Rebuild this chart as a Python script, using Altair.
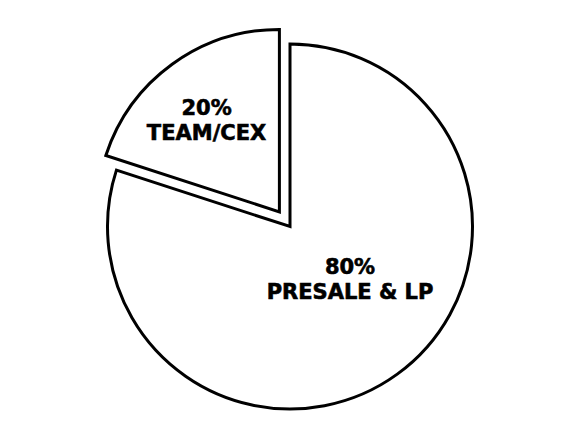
import altair as alt
import pandas as pd

categories = ["PRESALE & LP", "TEAM/CEX"]
values = [80, 20]

df = pd.DataFrame({"category": categories, "value": values})
total = sum(values)

base = alt.Chart(df).transform_window(
    order="row_number()"
).transform_stack(
    stack="value", groupby=[], as_=["start", "end"], sort=[alt.SortField("order")]
).transform_calculate(
    mid="(datum.start + datum.end) / 2",
    label="[format(datum.value, 'd') + '%', datum.category]",
)

theta_scale = alt.Scale(domain=[0, total])
R = 182.5

arc_style = dict(fill="white", stroke="black", strokeWidth=3, radius=R, strokeJoin="miter")
text_style = dict(font="DejaVu Sans", fontWeight="bold", fontSize=21, lineHeight=25,
                  color="black", align="center", baseline="middle",
                  stroke="black", strokeWidth=0.6)

# centre offset of the pie and explode offset of the small slice
cx_off, cy_off = -4, 4
ex_off, ey_off = -10.6, -14.6

big = base.transform_filter(alt.datum.category == categories[0]).mark_arc(
    xOffset=cx_off, yOffset=cy_off, **arc_style
).encode(
    theta=alt.Theta("start:Q", scale=theta_scale),
    theta2="end:Q",
)

small = base.transform_filter(alt.datum.category == categories[1]).mark_arc(
    xOffset=cx_off + ex_off, yOffset=cy_off + ey_off, **arc_style
).encode(
    theta=alt.Theta("start:Q", scale=theta_scale),
    theta2="end:Q",
)

big_text = base.transform_filter(alt.datum.category == categories[0]).mark_text(
    radius=80, xOffset=cx_off + 13, yOffset=cy_off - 23, **text_style
).encode(
    theta=alt.Theta("mid:Q", scale=theta_scale),
    text="label:N",
)

small_text = base.transform_filter(alt.datum.category == categories[1]).mark_text(
    radius=118, xOffset=cx_off + ex_off - 3.5, yOffset=cy_off + ey_off - 7, **text_style
).encode(
    theta=alt.Theta("mid:Q", scale=theta_scale),
    text="label:N",
)

chart = alt.layer(big, small, big_text, small_text).properties(
    width=588, height=445, autosize=alt.AutoSizeParams(type="none"), padding=0,
    background="white",
).configure_view(stroke=None)

chart.save("out.html", embed_options={"renderer": "svg", "actions": False})
